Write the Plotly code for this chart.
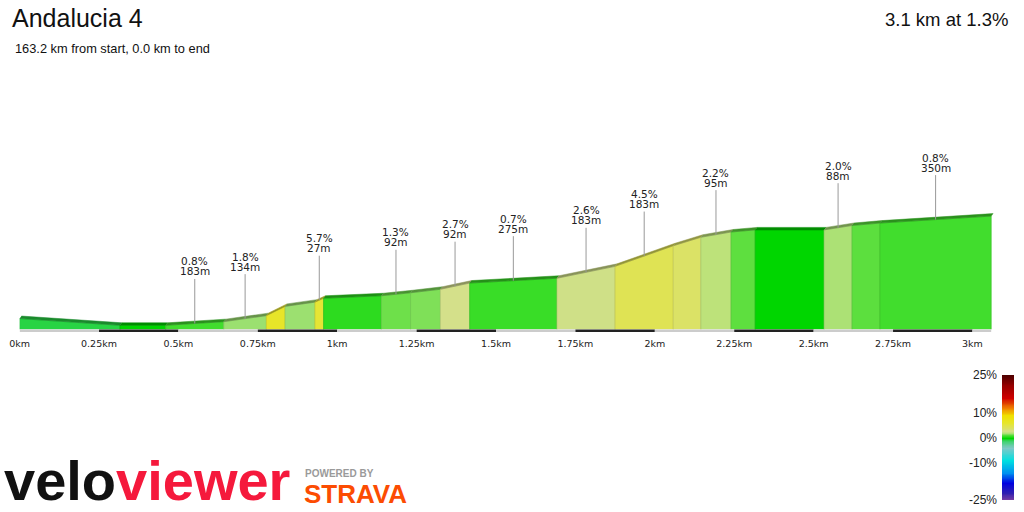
import plotly.graph_objects as go
from plotly.colors import sample_colorscale, unlabel_rgb


segment_name = "Andalucia 4"
from_start_km = 163.2
to_end_km = 0.0

# profile points
dist_km = [0.000, 0.316, 0.460, 0.643, 0.777, 0.836, 0.930, 0.957, 1.139, 1.231, 1.325,
           1.417, 1.692, 1.875, 2.058, 2.145, 2.240, 2.316, 2.533, 2.621, 2.709, 3.059]
elev_m = [102.70, 100.00, 100.00, 101.46, 103.87, 107.57, 109.27, 110.81, 111.81, 113.01, 114.41,
          116.89, 118.82, 123.58, 131.82, 135.22, 137.31, 138.16, 138.16, 139.92, 140.89, 143.69]

# segments that get a grade / length label
labelled = [2, 3, 6, 8, 10, 11, 12, 13, 15, 18, 20]

km_ticks = [0, 0.25, 0.5, 0.75, 1, 1.25, 1.5, 1.75, 2, 2.25, 2.5, 2.75, 3]
grade_ticks = [-25, -10, 0, 10, 25]
grade_levels = list(range(-25, 26))

# gradient colour scale (grade %, colour)
scale_grades = [-25, -22, -18, -14, -9, -4, -1.5, 0, 0.75, 1.3, 1.8, 2.2, 2.7, 4.5, 6, 9, 12, 16, 21, 25]
scale_colors = ['rgb(128,64,160)', 'rgb(48,32,176)', 'rgb(0,0,224)', 'rgb(0,144,240)',
                'rgb(0,224,224)', 'rgb(128,200,200)', 'rgb(70,210,120)', 'rgb(0,214,0)',
                'rgb(61,221,42)', 'rgb(110,224,74)', 'rgb(155,224,112)', 'rgb(189,226,122)',
                'rgb(212,224,138)', 'rgb(223,227,84)', 'rgb(230,230,45)', 'rgb(240,224,0)',
                'rgb(240,128,0)', 'rgb(208,0,0)', 'rgb(150,0,0)', 'rgb(80,0,0)']
colorscale = [[(g + 25) / 50, c] for g, c in zip(scale_grades, scale_colors)]

y_min, y_max = 98.32, 170.12
depth_x, depth_y = 0.006, 1.0

# lay everything out in page pixels (body margin is removed below)
W, H = 1024, 512


def fx(p):
    return p / W


def fy(p):
    return 1 - p / H


def shade(color, f):
    r, g, b = unlabel_rgb(color)
    return 'rgb(%d,%d,%d)' % (r * f, g * f, b * f)


fig = go.Figure()

label_font = dict(family='DejaVu Sans', size=10.5, color='#222222')
annotations = []
for i in range(len(dist_km) - 1):
    x0, x1 = dist_km[i], dist_km[i + 1]
    h0, h1 = elev_m[i], elev_m[i + 1]
    length_m = (x1 - x0) * 1000
    grade = (h1 - h0) / length_m * 100
    col = sample_colorscale(colorscale, [(min(max(grade, -25), 25) + 25) / 50])[0]

    # front face
    fig.add_trace(go.Scatter(
        x=[x0, x0, x1, x1], y=[y_min, h0, h1, y_min],
        fill='toself', fillcolor=col, mode='lines',
        line=dict(color=shade(col, 0.88), width=0.7),
        hoverinfo='skip'))
    # top strip for the 3d look
    fig.add_trace(go.Scatter(
        x=[x0, x1, x1 + depth_x, x0 + depth_x], y=[h0, h1, h1 + depth_y, h0 + depth_y],
        fill='toself', fillcolor=shade(col, 0.66), mode='lines',
        line=dict(color=shade(col, 0.66), width=0.5),
        hoverinfo='skip'))

    if i in labelled:
        xm, hm = (x0 + x1) / 2, (h0 + h1) / 2
        annotations.append(dict(
            x=xm, y=hm, xref='x', yref='y', text='%dm' % round(length_m),
            showarrow=True, arrowhead=0, arrowwidth=1, arrowcolor='#999999',
            ax=0, ay=-52, standoff=0, font=label_font))
        annotations.append(dict(
            x=xm, y=hm, xref='x', yref='y', text='%.1f%%' % grade,
            showarrow=False, yshift=62, font=label_font))

# colour bar drawn as a thin heatmap
fig.add_trace(go.Heatmap(
    x=[0], y=grade_levels, z=[[g] for g in grade_levels],
    colorscale=colorscale, zmin=-25, zmax=25, showscale=False, zsmooth='best',
    xaxis='x2', yaxis='y2', hoverinfo='skip'))

# alternating distance bar under the profile
shapes = []
for i, k in enumerate(km_ticks):
    end = min(k + 0.25, dist_km[-1])
    if end <= k:
        continue
    shapes.append(dict(
        type='rect', xref='x', yref='y domain', x0=k, x1=end, y0=-0.014, y1=0,
        fillcolor='#222222' if i % 2 else '#cccccc', line=dict(width=0), layer='above'))

total_km = dist_km[-1]
avg_grade = (elev_m[-1] - elev_m[0]) / (total_km * 1000) * 100

head_font = 'Liberation Sans, Arial, sans-serif'
annotations += [
    dict(x=fx(10), y=fy(18), xref='paper', yref='paper', xanchor='left', yanchor='middle',
         text=segment_name, showarrow=False, font=dict(family=head_font, size=25, color='#111111')),
    dict(x=fx(13), y=fy(48), xref='paper', yref='paper', xanchor='left', yanchor='middle',
         text='%.1f km from start, %.1f km to end' % (from_start_km, to_end_km), showarrow=False,
         font=dict(family=head_font, size=12.8, color='#111111')),
    dict(x=fx(1010), y=fy(19), xref='paper', yref='paper', xanchor='right', yanchor='middle',
         text='%.1f km at %.1f%%' % (total_km, avg_grade), showarrow=False,
         font=dict(family=head_font, size=18.5, color='#111111')),
    dict(x=fx(2), y=fy(480), xref='paper', yref='paper', xanchor='left', yanchor='middle',
         text="<b><span style='color:#111111'>velo</span><span style='color:#f5193c'>viewer</span></b>",
         showarrow=False, font=dict(family=head_font, size=56)),
    dict(x=fx(303), y=fy(473), xref='paper', yref='paper', xanchor='left', yanchor='middle',
         text='<b>POWERED BY</b>', showarrow=False,
         font=dict(family=head_font, size=10, color='#9a9a9a')),
    dict(x=fx(302), y=fy(494), xref='paper', yref='paper', xanchor='left', yanchor='middle',
         text='<b>STRAVA</b>', showarrow=False,
         font=dict(family=head_font, size=26, color='#fc4c02')),
]

fig.update_layout(
    width=W, height=H,
    margin=dict(l=0, r=0, t=0, b=0, autoexpand=False),
    paper_bgcolor='white', plot_bgcolor='white',
    showlegend=False, hovermode=False,
    annotations=annotations, shapes=shapes,
    xaxis=dict(domain=[fx(19.6), fx(1004.2)], range=[0, 3.1], tickmode='array', tickvals=km_ticks,
               ticktext=['%gkm' % k for k in km_ticks], automargin=False,
               showgrid=False, zeroline=False, showline=False, ticks='',
               ticklabelstandoff=7, fixedrange=True,
               tickfont=dict(family='DejaVu Sans', size=9.5, color='#222222')),
    yaxis=dict(domain=[fy(329.5), fy(150)], range=[y_min, y_max], visible=False, fixedrange=True,
               automargin=False),
    xaxis2=dict(domain=[fx(1002), fx(1014)], range=[-0.5, 0.5], visible=False, anchor='y2',
                automargin=False),
    yaxis2=dict(domain=[fy(500), fy(375)], range=[-25, 25], anchor='x2', side='left',
                tickmode='array', tickvals=grade_ticks, ticktext=['%d%%' % g for g in grade_ticks],
                ticks='', showgrid=False, zeroline=False, showline=False, ticklabelstandoff=4,
                automargin=False,
                tickfont=dict(family=head_font, size=12, color='#222222')),
)

config = {'displayModeBar': False, 'scrollZoom': False, 'showLink': False}
fig.write_html("out.html", config=config,
               post_script="document.body.style.margin='0';document.body.style.overflow='hidden';")
